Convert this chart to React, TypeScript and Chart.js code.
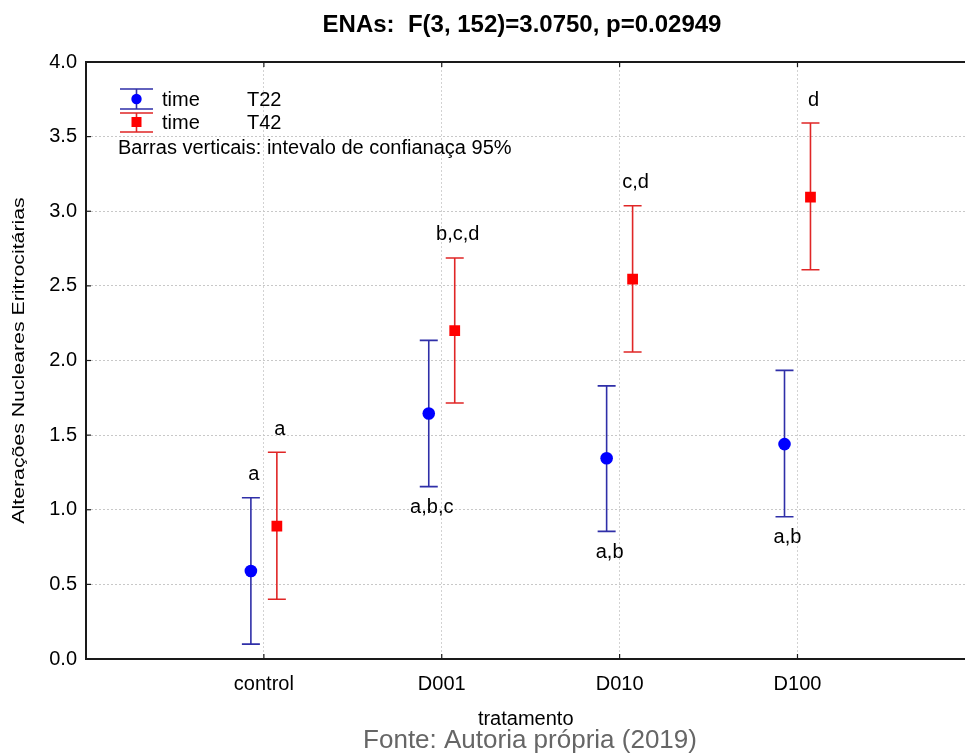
import React, { useEffect, useRef } from 'react';
import { Chart, registerables } from 'chart.js';

Chart.register(...registerables);

// ---------- data ----------
const categories = ['control', 'D001', 'D010', 'D100'];
const seriesFactor = 'time';
const seriesNames = ['T22', 'T42'];

const t22Mean = [0.59, 1.645, 1.345, 1.44];
const t22Lower = [0.1, 1.155, 0.855, 0.953];
const t22Upper = [1.08, 2.135, 1.83, 1.934];

const t42Mean = [0.89, 2.2, 2.545, 3.095];
const t42Lower = [0.4, 1.715, 2.057, 2.608];
const t42Upper = [1.385, 2.687, 3.037, 3.591];

const t22Letters = ['a', 'a,b,c', 'a,b', 'a,b'];
const t22LetterSide = ['above', 'below', 'below', 'below'];
const t42Letters = ['a', 'b,c,d', 'c,d', 'd'];
const t42LetterSide = ['above', 'above', 'above', 'above'];

const yMin = 0;
const yMax = 4;
const yStep = 0.5;

const titleText = 'ENAs:  F(3, 152)=3.0750, p=0.02949';
const yTitle = 'Alterações Nucleares Eritrocitárias';
const xTitle = 'tratamento';
const noteText = 'Barras verticais: intevalo de confianaça 95%';
const sourceText = 'Fonte: Autoria própria (2019)';

// ---------- styles ----------
const W = 965;
const H = 755;
const CW = 973; // canvas slightly wider than the page so the plot runs off the right edge
const FONT = '"Liberation Sans", Arial, Helvetica, sans-serif';
const BLUE_LINE = '#2f2fa8';
const BLUE_MARK = '#0000ff';
const RED_LINE = '#e02626';
const RED_MARK = '#ff0000';
const OFFSET = 0.073;
const CAP = 9;

const seriesStyle = [
  { line: BLUE_LINE, mark: BLUE_MARK, off: -OFFSET, lower: t22Lower, upper: t22Upper, letters: t22Letters, side: t22LetterSide },
  { line: RED_LINE, mark: RED_MARK, off: OFFSET, lower: t42Lower, upper: t42Upper, letters: t42Letters, side: t42LetterSide },
];

const errorBarPlugin = {
  id: 'errorBars',
  beforeDatasetsDraw(chart: any) {
    const { ctx, scales } = chart;
    const xs = scales.x;
    const ys = scales.y;
    ctx.save();
    seriesStyle.forEach((s) => {
      ctx.strokeStyle = s.line;
      ctx.lineWidth = 1.6;
      categories.forEach((_, i) => {
        const x = xs.getPixelForValue(i + s.off);
        const yl = ys.getPixelForValue(s.lower[i]);
        const yu = ys.getPixelForValue(s.upper[i]);
        ctx.beginPath();
        ctx.moveTo(x, yl);
        ctx.lineTo(x, yu);
        ctx.moveTo(x - CAP, yl);
        ctx.lineTo(x + CAP, yl);
        ctx.moveTo(x - CAP, yu);
        ctx.lineTo(x + CAP, yu);
        ctx.stroke();
      });
    });
    ctx.restore();
  },
  afterDatasetsDraw(chart: any) {
    const { ctx, scales } = chart;
    const xs = scales.x;
    const ys = scales.y;
    ctx.save();
    ctx.font = `20px ${FONT}`;
    ctx.fillStyle = '#000';
    ctx.textAlign = 'center';
    ctx.textBaseline = 'middle';
    seriesStyle.forEach((s) => {
      categories.forEach((_, i) => {
        const x = xs.getPixelForValue(i + s.off) + 3;
        const y = s.side[i] === 'above'
          ? ys.getPixelForValue(s.upper[i]) - 23
          : ys.getPixelForValue(s.lower[i]) + 21;
        ctx.fillText(s.letters[i], x, y);
      });
    });
    ctx.restore();
  },
};

const decorPlugin = {
  id: 'decor',
  afterDraw(chart: any) {
    const { ctx, chartArea, scales } = chart;
    const { left, right, top, bottom } = chartArea;
    ctx.save();
    // top frame line
    ctx.strokeStyle = '#1a1a1a';
    ctx.lineWidth = 2;
    ctx.beginPath();
    ctx.moveTo(left - 1, top);
    ctx.lineTo(Math.max(right, CW), top);
    ctx.stroke();
    // inward tick marks
    ctx.lineWidth = 1.2;
    scales.x.ticks.forEach((t: any) => {
      const x = scales.x.getPixelForValue(t.value);
      ctx.beginPath();
      ctx.moveTo(x, bottom);
      ctx.lineTo(x, bottom - 5);
      ctx.moveTo(x, top);
      ctx.lineTo(x, top + 5);
      ctx.stroke();
    });
    scales.y.ticks.forEach((t: any) => {
      const y = scales.y.getPixelForValue(t.value);
      ctx.beginPath();
      ctx.moveTo(left, y);
      ctx.lineTo(left + 5, y);
      ctx.stroke();
    });

    // title
    ctx.fillStyle = '#000';
    ctx.font = `bold 24px ${FONT}`;
    ctx.textAlign = 'center';
    ctx.textBaseline = 'middle';
    ctx.fillText(titleText, 522, 25);

    // y-axis title (stretched along its length like the reference)
    ctx.save();
    ctx.translate(20, (top + bottom) / 2);
    ctx.rotate(-Math.PI / 2);
    ctx.scale(1.33, 1);
    ctx.font = `16px ${FONT}`;
    ctx.textAlign = 'center';
    ctx.textBaseline = 'middle';
    ctx.fillText(yTitle, 0, 0);
    ctx.restore();

    // legend
    const lx = 136.5;
    const half = 16.5;
    const rows = [
      { top: 89, mid: 99, bot: 109, ty: 100 },
      { top: 113, mid: 122, bot: 132, ty: 123 },
    ];
    rows.forEach((r, k) => {
      const s = seriesStyle[k];
      ctx.strokeStyle = s.line;
      ctx.lineWidth = 1.6;
      ctx.beginPath();
      ctx.moveTo(lx - half, r.top);
      ctx.lineTo(lx + half, r.top);
      ctx.moveTo(lx - half, r.bot);
      ctx.lineTo(lx + half, r.bot);
      ctx.moveTo(lx, r.top);
      ctx.lineTo(lx, r.bot);
      ctx.stroke();
      ctx.fillStyle = s.mark;
      ctx.beginPath();
      if (k === 0) {
        ctx.arc(lx, r.mid, 5.2, 0, Math.PI * 2);
      } else {
        ctx.rect(lx - 5, r.mid - 5, 10, 10);
      }
      ctx.fill();
      ctx.fillStyle = '#000';
      ctx.font = `20px ${FONT}`;
      ctx.textAlign = 'left';
      ctx.textBaseline = 'middle';
      ctx.fillText(seriesFactor, 162, r.ty);
      ctx.fillText(seriesNames[k], 247, r.ty);
    });
    ctx.fillText(noteText, 118, 148);

    // source caption
    ctx.fillStyle = '#666666';
    ctx.font = `26px ${FONT}`;
    ctx.textAlign = 'center';
    ctx.fillText(sourceText, 530, 741);
    ctx.restore();
  },
};

export default function App() {
  const ref = useRef<HTMLCanvasElement | null>(null);

  useEffect(() => {
    if (!ref.current) return;
    const chart = new Chart(ref.current, {
      type: 'scatter',
      data: {
        datasets: [
          {
            label: seriesNames[0],
            data: t22Mean.map((v, i) => ({ x: i - OFFSET, y: v })),
            pointStyle: 'circle',
            pointRadius: 6.3,
            backgroundColor: BLUE_MARK,
            borderColor: BLUE_MARK,
            borderWidth: 0,
          },
          {
            label: seriesNames[1],
            data: t42Mean.map((v, i) => ({ x: i + OFFSET, y: v })),
            pointStyle: 'rect',
            pointRadius: 7.6,
            backgroundColor: RED_MARK,
            borderColor: RED_MARK,
            borderWidth: 0,
          },
        ],
      },
      options: {
        responsive: false,
        animation: false,
        devicePixelRatio: 1,
        layout: { padding: { top: 62, left: 0, right: 0, bottom: 0 } },
        plugins: {
          legend: { display: false },
          tooltip: { enabled: false },
          title: { display: false },
        },
        scales: {
          x: {
            type: 'linear',
            min: -1,
            max: 3.944,
            afterBuildTicks: (s: any) => {
              s.ticks = categories.map((_, i) => ({ value: i }));
            },
            afterFit: (s: any) => {
              s.height = H - 659;
              s.paddingLeft = 0;
              s.paddingRight = 0;
            },
            ticks: {
              callback: (v: any) => categories[v] ?? '',
              font: { family: FONT, size: 20 },
              color: '#000',
              padding: 13,
              maxRotation: 0,
              autoSkip: false,
            },
            grid: { color: '#d2d2d2', lineWidth: 1, drawTicks: false },
            border: { display: true, color: '#1a1a1a', width: 2, dash: [2, 2] },
            title: {
              display: true,
              text: xTitle,
              font: { family: FONT, size: 20 },
              color: '#000',
              padding: { top: 0, bottom: 24 },
            },
          },
          y: {
            min: yMin,
            max: yMax,
            afterFit: (s: any) => {
              s.width = 86;
              s.paddingTop = 0;
              s.paddingBottom = 0;
            },
            ticks: {
              stepSize: yStep,
              callback: (v: any) => Number(v).toFixed(1),
              font: { family: FONT, size: 20 },
              color: '#000',
              padding: 9,
            },
            grid: { color: '#c8c8c8', lineWidth: 1, drawTicks: false },
            border: { display: true, color: '#1a1a1a', width: 2, dash: [2, 2] },
            title: { display: false },
          },
        },
      },
      plugins: [errorBarPlugin, decorPlugin],
    } as any);
    return () => chart.destroy();
  }, []);

  return (
    <div
      style={{ position: 'absolute', left: 0, top: 0, width: W, height: H, overflow: 'hidden', background: '#fff' }}
    >
      <canvas
        ref={ref}
        width={CW}
        height={H}
        style={{ display: 'block', width: CW, height: H }}
      />
    </div>
  );
}
